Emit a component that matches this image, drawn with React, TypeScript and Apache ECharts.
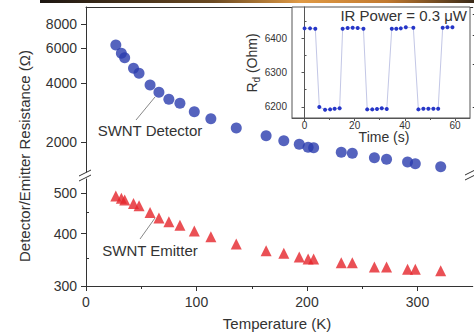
import React, { useEffect, useRef } from 'react';
import * as echarts from 'echarts';

// Main plot data (Temperature in K, resistance in Ohm)
const temperatureK = [27, 32, 35, 43, 48, 58, 66, 75, 85, 98, 113, 136, 163, 179, 193, 201, 206, 231, 241, 261, 272, 291, 298, 321];
const detectorOhm = [6251, 5669, 5385, 4755, 4481, 3906, 3585, 3303, 3150, 2856, 2625, 2358, 2151, 2031, 1946, 1879, 1870, 1772, 1752, 1664, 1632, 1582, 1550, 1496];
const emitterOhm = [492, 486, 481, 472, 466, 449, 436, 427, 419, 406, 393, 378, 364, 359, 352, 348, 348, 341, 341, 333, 333, 329, 329, 326];

// Inset data (time in s, Rd in Ohm)
const timeS = [0, 2.2, 4.3, 5.9, 8.2, 10.2, 12.0, 14.0, 15.2, 17.2, 19.2, 21.2, 23.5, 25.0, 27.0, 28.9, 30.8, 32.8, 34.8, 36.6, 38.4, 40.4, 43.4, 45.4, 47.4, 49.4, 51.4, 53.3, 55.1, 57.0, 59.0];
const rdOhm = [6428, 6428, 6427, 6200, 6192, 6193, 6195, 6196, 6427, 6429, 6430, 6429, 6427, 6193, 6193, 6194, 6196, 6194, 6427, 6427, 6428, 6431, 6430, 6193, 6195, 6195, 6195, 6195, 6430, 6431, 6431];

// Tick values
const tempTicks = [0, 100, 200, 300];
const tempMinorTicks = [50, 150, 250];
const upperTicks = [2000, 4000, 6000, 8000];
const upperMinorTicks = [3000, 5000, 7000, 9000];
const lowerTicks = [300, 400, 500];
const lowerMinorTicks = [350, 450];
const insetTimeTicks = [0, 20, 40, 60];
const insetTimeMinorTicks = [10, 30, 50];
const insetRdTicks = [6200, 6300, 6400];
const insetRdMinorTicks = [6250, 6350, 6450];

const FONT = '"Liberation Sans", Arial, Helvetica, sans-serif';
const AX = '#333';
const INSET_AX = '#555';
const plain = (v: number) => String(Math.round(v));

function minorAxis(gridIndex: number, type: string, min: number, max: number, ticks: number[], len: number, color: string, position?: string) {
  return {
    gridIndex, type, min, max, position,
    axisLine: { show: false },
    axisTick: { show: true, customValues: ticks, length: len, lineStyle: { color, width: 1 } },
    axisLabel: { show: false },
    splitLine: { show: false },
  };
}

export default function App() {
  const ref = useRef<HTMLDivElement>(null);
  useEffect(() => {
    const chart = echarts.init(ref.current!, null, { renderer: 'svg' });
    const option: any = {
      animation: false,
      backgroundColor: '#fff',
      textStyle: { fontFamily: FONT },
      grid: [
        { left: 86, top: 7, width: 386.75, height: 165, containLabel: false, outerBoundsMode: 'none' },
        { left: 86, top: 179, width: 386.75, height: 107, containLabel: false, outerBoundsMode: 'none' },
        { left: 292, top: 7, width: 178, height: 111, containLabel: false, outerBoundsMode: 'none', show: true, borderColor: INSET_AX, borderWidth: 1, backgroundColor: '#fff', z: 5 },
      ],
      xAxis: [
        {
          gridIndex: 0, type: 'value', min: 0, max: 350, position: 'top',
          axisLine: { show: true, lineStyle: { color: AX, width: 1 } },
          axisTick: { show: false }, axisLabel: { show: false }, splitLine: { show: false },
        },
        {
          gridIndex: 1, type: 'value', min: 0, max: 350, position: 'bottom',
          axisLine: { show: true, lineStyle: { color: AX, width: 1 } },
          axisTick: { show: true, customValues: tempTicks, length: 5, lineStyle: { color: AX } },
          axisLabel: { customValues: tempTicks, formatter: plain, fontSize: 14, color: '#333', margin: 9, fontFamily: FONT },
          splitLine: { show: false },
        },
        minorAxis(1, 'value', 0, 350, tempMinorTicks, 3, AX, 'bottom'),
        {
          gridIndex: 2, type: 'value', min: -5, max: 66, position: 'bottom',
          axisLine: { show: true, lineStyle: { color: INSET_AX, width: 1 } },
          axisTick: { show: true, customValues: insetTimeTicks, length: 3, lineStyle: { color: INSET_AX } },
          axisLabel: { customValues: insetTimeTicks, formatter: plain, fontSize: 10, color: '#333', margin: 2, fontFamily: FONT },
          splitLine: { show: false }, z: 6,
        },
        { ...minorAxis(2, 'value', -5, 66, insetTimeMinorTicks, 2, INSET_AX, 'bottom'), z: 6 },
      ],
      yAxis: [
        {
          gridIndex: 0, type: 'log', logBase: 10, min: 1406, max: 9769,
          axisLine: { show: true, lineStyle: { color: AX, width: 1 } },
          axisTick: { show: true, customValues: upperTicks, length: 5, lineStyle: { color: AX } },
          axisLabel: { customValues: upperTicks, formatter: plain, fontSize: 14, color: '#333', margin: 9, fontFamily: FONT },
          splitLine: { show: false }, minorTick: { show: false }, minorSplitLine: { show: false },
        },
        minorAxis(0, 'log', 1406, 9769, upperMinorTicks, 3, AX),
        {
          gridIndex: 1, type: 'log', logBase: 10, min: 300, max: 540,
          axisLine: { show: true, lineStyle: { color: AX, width: 1 } },
          axisTick: { show: true, customValues: lowerTicks, length: 5, lineStyle: { color: AX } },
          axisLabel: { customValues: lowerTicks, formatter: plain, fontSize: 14, color: '#333', margin: 9, fontFamily: FONT },
          splitLine: { show: false },
        },
        minorAxis(1, 'log', 300, 540, lowerMinorTicks, 3, AX),
        {
          gridIndex: 2, type: 'value', min: 6168, max: 6490,
          axisLine: { show: true, lineStyle: { color: INSET_AX, width: 1 } },
          axisTick: { show: true, customValues: insetRdTicks, length: 3, lineStyle: { color: INSET_AX } },
          axisLabel: { customValues: insetRdTicks, formatter: plain, fontSize: 10, color: '#333', margin: 5, fontFamily: FONT },
          splitLine: { show: false }, z: 6,
        },
        { ...minorAxis(2, 'value', 6168, 6490, insetRdMinorTicks, 2, INSET_AX), z: 6 },
      ],
      series: [
        {
          name: 'SWNT Detector', type: 'scatter', xAxisIndex: 0, yAxisIndex: 0,
          symbol: 'circle', symbolSize: 11,
          itemStyle: { color: '#2a3cae' },
          data: temperatureK.map((t, i) => [t, detectorOhm[i]]),
        },
        {
          name: 'SWNT Emitter', type: 'scatter', xAxisIndex: 1, yAxisIndex: 2,
          symbol: 'triangle', symbolSize: 11,
          itemStyle: { color: '#e5242a' },
          data: temperatureK.map((t, i) => [t, emitterOhm[i]]),
        },
        {
          name: 'Rd', type: 'line', xAxisIndex: 3, yAxisIndex: 4, z: 7,
          symbol: 'circle', symbolSize: 4, showSymbol: true,
          lineStyle: { color: '#c3c7e6', width: 1 },
          itemStyle: { color: '#2636c8', borderWidth: 0 },
          data: timeS.map((t, i) => [t, rdOhm[i]]),
        },
      ],
      graphic: [
        {
          type: 'rect', z: 100, shape: { x: 40, y: 0, width: 434, height: 3 },
          style: {
            fill: new echarts.graphic.LinearGradient(0, 0, 1, 0, [
              { offset: 0, color: '#1c1612' },
              { offset: 0.4, color: '#6b4a22' },
              { offset: 0.6, color: '#e09a45' },
              { offset: 0.8, color: '#c27a30' },
              { offset: 1, color: '#3a2a18' },
            ]),
          },
        },
        {
          type: 'text', z: 100, x: 24, y: 156, rotation: Math.PI / 2,
          style: { text: 'Detector/Emitter Resistance (Ω)', fontSize: 15, fill: '#333', fontFamily: FONT, textAlign: 'center', textVerticalAlign: 'middle' },
        },
        {
          type: 'text', z: 100, x: 277, y: 323,
          style: { text: 'Temperature (K)', fontSize: 15, fill: '#333', fontFamily: FONT, textAlign: 'center', textVerticalAlign: 'middle' },
        },
        {
          type: 'text', z: 100, x: 384, y: 137,
          style: { text: 'Time (s)', fontSize: 14, fill: '#333', fontFamily: FONT, textAlign: 'center', textVerticalAlign: 'middle' },
        },
        {
          type: 'text', z: 100, x: 252, y: 63, rotation: Math.PI / 2,
          style: {
            text: '{a|R}{b|d}{a| (Ohm)}', fill: '#333', fontFamily: FONT, textAlign: 'center', textVerticalAlign: 'middle',
            rich: {
              a: { fontSize: 14, fontFamily: FONT, fill: '#333', lineHeight: 18, verticalAlign: 'middle' },
              b: { fontSize: 10, fontFamily: FONT, fill: '#333', lineHeight: 18, verticalAlign: 'bottom' },
            },
          },
        },
        {
          type: 'text', z: 100, x: 467, y: 15,
          style: { text: 'IR Power = 0.3 μW', fontSize: 15, fill: '#333', fontFamily: FONT, textAlign: 'right', textVerticalAlign: 'middle' },
        },
        {
          type: 'line', z: 100, shape: { x1: 136, y1: 120, x2: 155, y2: 97 },
          style: { stroke: '#888', lineWidth: 1 },
        },
        {
          type: 'text', z: 100, x: 150, y: 130,
          style: { text: 'SWNT Detector', fontSize: 15, fill: '#333', fontFamily: FONT, textAlign: 'center', textVerticalAlign: 'middle' },
        },
        {
          type: 'line', z: 100, shape: { x1: 140, y1: 239, x2: 155, y2: 218 },
          style: { stroke: '#888', lineWidth: 1 },
        },
        {
          type: 'text', z: 100, x: 150, y: 250,
          style: { text: 'SWNT Emitter', fontSize: 15, fill: '#333', fontFamily: FONT, textAlign: 'center', textVerticalAlign: 'middle' },
        },
        { type: 'line', z: 100, shape: { x1: 79, y1: 176, x2: 91, y2: 170 }, style: { stroke: '#333', lineWidth: 1 } },
        { type: 'line', z: 100, shape: { x1: 79, y1: 181, x2: 91, y2: 175 }, style: { stroke: '#333', lineWidth: 1 } },
        { type: 'line', z: 100, shape: { x1: 465, y1: 175, x2: 475, y2: 170 }, style: { stroke: '#333', lineWidth: 1 } },
        { type: 'line', z: 100, shape: { x1: 465, y1: 180, x2: 475, y2: 175 }, style: { stroke: '#333', lineWidth: 1 } },
      ],
    };
    chart.setOption(option);
    return () => chart.dispose();
  }, []);
  return (
    <div
      ref={ref}
      style={{ position: 'fixed', left: 0, top: 0, width: 474, height: 333, background: '#fff' }}
    />
  );
}
